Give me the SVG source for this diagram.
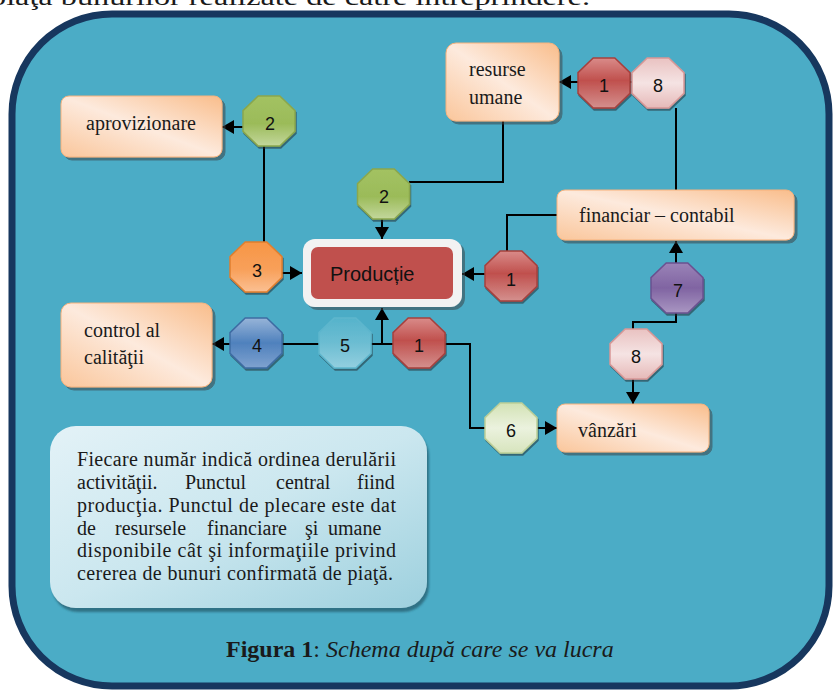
<svg xmlns="http://www.w3.org/2000/svg" xmlns:xlink="http://www.w3.org/1999/xlink" width="833" height="690" viewBox="0 0 833 690">
<defs>
<style>
.serif{font-family:"Liberation Serif","DejaVu Serif",serif;fill:#1a1a1a}
.bt{font-size:20px}
.pt{font-size:20px}
.num{font-family:"Liberation Sans","DejaVu Sans",sans-serif;font-size:18px;text-anchor:middle;fill:#111}
.conn{stroke:#000;stroke-width:2;fill:none}
.arr{marker-end:url(#ah)}
.box{fill:url(#gp);stroke:#f7b27c;stroke-width:1;filter:url(#bsh)}
.oct{filter:url(#osh)}
</style>
<linearGradient id="gp" x1="0" y1="1" x2="1" y2="0">
<stop offset="0" stop-color="#fac69b"/><stop offset="0.5" stop-color="#fdeadd"/><stop offset="1" stop-color="#f9bd8b"/>
</linearGradient>
<linearGradient id="gi" x1="0" y1="0" x2="1" y2="1">
<stop offset="0" stop-color="#e3f2f7"/><stop offset="0.5" stop-color="#cbe7ef"/><stop offset="1" stop-color="#9dd0de"/>
</linearGradient>
<linearGradient id="g-green" x1="0" y1="0" x2="0" y2="1"><stop offset="0" stop-color="#a3c262"/><stop offset="0.55" stop-color="#9bbb59"/><stop offset="1" stop-color="#c3d79c"/></linearGradient>
<linearGradient id="g-orange" x1="0" y1="0" x2="0" y2="1"><stop offset="0" stop-color="#f79646"/><stop offset="0.55" stop-color="#f8a05a"/><stop offset="1" stop-color="#fbc093"/></linearGradient>
<linearGradient id="g-red" x1="0" y1="0" x2="0" y2="1"><stop offset="0" stop-color="#d98b89"/><stop offset="0.45" stop-color="#c0504d"/><stop offset="1" stop-color="#d4908e"/></linearGradient>
<linearGradient id="g-pink" x1="0" y1="0" x2="0" y2="1"><stop offset="0" stop-color="#e9c2c1"/><stop offset="0.5" stop-color="#f5e3e3"/><stop offset="1" stop-color="#e6b9b8"/></linearGradient>
<linearGradient id="g-purple" x1="0" y1="0" x2="0" y2="1"><stop offset="0" stop-color="#9a83b7"/><stop offset="0.5" stop-color="#8064a2"/><stop offset="1" stop-color="#a996c2"/></linearGradient>
<linearGradient id="g-blue" x1="0" y1="0" x2="0" y2="1"><stop offset="0" stop-color="#97b4d8"/><stop offset="0.5" stop-color="#4f81bd"/><stop offset="1" stop-color="#7fa2cf"/></linearGradient>
<linearGradient id="g-lblue" x1="0" y1="0" x2="0" y2="1"><stop offset="0" stop-color="#56b3cb"/><stop offset="0.5" stop-color="#6cbdd2"/><stop offset="1" stop-color="#93cfdf"/></linearGradient>
<linearGradient id="g-lgreen" x1="0" y1="0" x2="0" y2="1"><stop offset="0" stop-color="#d3e2b5"/><stop offset="0.5" stop-color="#ebf2de"/><stop offset="1" stop-color="#d7e4bd"/></linearGradient>
<filter id="bsh" x="-10%" y="-10%" width="125%" height="130%"><feDropShadow dx="3" dy="3" stdDeviation="0.6" flood-color="#3a4548" flood-opacity="0.55"/></filter>
<filter id="osh" x="-20%" y="-20%" width="150%" height="150%"><feDropShadow dx="1" dy="2" stdDeviation="0.5" flood-color="#1a2f38" flood-opacity="0.55"/></filter>
<filter id="ish" x="-5%" y="-5%" width="115%" height="120%"><feDropShadow dx="2" dy="4" stdDeviation="0.8" flood-color="#22596a" flood-opacity="0.7"/></filter>
<marker id="ah" markerUnits="userSpaceOnUse" markerWidth="13" markerHeight="14" refX="12" refY="7" orient="auto">
<path d="M0,0 L12,7 L0,14 z" fill="#000"/>
</marker>
<polygon id="oct" points="-10.8,-25 10.8,-25 26,-10.4 26,10.4 10.8,25 -10.8,25 -26,10.4 -26,-10.4"/>
</defs>

<text class="serif" x="-10" y="5" font-size="24" textLength="600" lengthAdjust="spacingAndGlyphs">piaţa bunurilor realizate de către întreprindere.</text>

<rect id="frame" x="12" y="14" width="817" height="672" rx="100" ry="100" fill="#4bacc6" stroke="#17375e" stroke-width="7"/>

<g id="connectors">
<path class="conn arr" d="M244,127 H222"/>
<path class="conn" d="M264,146 V243"/>
<path class="conn arr" d="M282,273 H302"/>
<path class="conn" d="M503,121 V182 H409"/>
<path class="conn arr" d="M382,219 V239"/>
<path class="conn arr" d="M578,82 H559"/>
<path class="conn" d="M629,82 H633"/>
<path class="conn" d="M676,108 V190"/>
<path class="conn" d="M557,215 H507 V251"/>
<path class="conn arr" d="M486,274 H462"/>
<path class="conn arr" d="M676,263 V241"/>
<path class="conn" d="M676,312 V322 H633 V330"/>
<path class="conn arr" d="M633,378 V404"/>
<path class="conn arr" d="M231,344 H212"/>
<path class="conn" d="M281,344 H320"/>
<path class="conn" d="M370,344 H394"/>
<path class="conn arr" d="M382,344 V308"/>
<path class="conn" d="M444,344 H470 V428 H486"/>
<path class="conn arr" d="M536,428 H557"/>
</g>

<g id="aprovizionare">
<rect class="box" x="61" y="96" width="161" height="61" rx="8"/>
<text class="serif bt" x="141" y="130" text-anchor="middle">aprovizionare</text>
</g>
<g id="resurse-umane">
<rect class="box" x="446" y="43" width="113" height="78" rx="10"/>
<text class="serif bt" x="469" y="76">resurse</text>
<text class="serif bt" x="469" y="104">umane</text>
</g>
<g id="financiar-contabil">
<rect class="box" x="557" y="190" width="237" height="50" rx="8"/>
<text class="serif bt" x="579" y="222">financiar – contabil</text>
</g>
<g id="control-calitate">
<rect class="box" x="61" y="303" width="151" height="84" rx="10"/>
<text class="serif bt" x="84" y="337">control al</text>
<text class="serif bt" x="84" y="364">calităţii</text>
</g>
<g id="vanzari">
<rect class="box" x="557" y="404" width="152" height="48" rx="8"/>
<text class="serif bt" x="578" y="437">vânzări</text>
</g>
<g id="productie">
<rect x="303" y="239" width="159" height="68" rx="12" fill="#f2f2f2" filter="url(#bsh)"/>
<rect x="311" y="247" width="142" height="52" rx="7" fill="#c0504d"/>
<text x="330" y="281" font-family="Liberation Sans, DejaVu Sans, sans-serif" font-size="20" fill="#111">Producție</text>
</g>

<g id="n2a"><use href="#oct" x="269" y="121" class="oct" fill="url(#g-green)" stroke="#8aa74d" stroke-width="1.5"/><text class="num" x="270" y="130">2</text></g>
<g id="n2b"><use href="#oct" x="383.5" y="194" class="oct" fill="url(#g-green)" stroke="#8aa74d" stroke-width="1.5"/><text class="num" x="384" y="203">2</text></g>
<g id="n3"><use href="#oct" x="256" y="267" class="oct" fill="url(#g-orange)" stroke="#e07f2e" stroke-width="1.5"/><text class="num" x="257" y="277">3</text></g>
<g id="n1a"><use href="#oct" x="604" y="83" class="oct" fill="url(#g-red)" stroke="#a6403d" stroke-width="1.5"/><text class="num" x="604" y="92">1</text></g>
<g id="n8a"><use href="#oct" x="658" y="83" class="oct" fill="url(#g-pink)" stroke="#d79796" stroke-width="1.5"/><text class="num" x="658" y="92">8</text></g>
<g id="n1b"><use href="#oct" x="511" y="276" class="oct" fill="url(#g-red)" stroke="#a6403d" stroke-width="1.5"/><text class="num" x="511" y="286">1</text></g>
<g id="n7"><use href="#oct" x="677" y="288" class="oct" fill="url(#g-purple)" stroke="#6a5190" stroke-width="1.5"/><text class="num" x="678" y="297">7</text></g>
<g id="n8b"><use href="#oct" x="636" y="354" class="oct" fill="url(#g-pink)" stroke="#d79796" stroke-width="1.5"/><text class="num" x="636" y="363">8</text></g>
<g id="n6"><use href="#oct" x="511" y="428" class="oct" fill="url(#g-lgreen)" stroke="#bccf98" stroke-width="1.5"/><text class="num" x="511" y="437">6</text></g>
<g id="n4"><use href="#oct" x="256" y="343" class="oct" fill="url(#g-blue)" stroke="#3e6ca3" stroke-width="1.5"/><text class="num" x="257" y="352">4</text></g>
<g id="n5"><use href="#oct" x="345" y="343" class="oct" fill="url(#g-lblue)" stroke="#5db6cd" stroke-width="1.5"/><text class="num" x="345" y="352">5</text></g>
<g id="n1c"><use href="#oct" x="419" y="343" class="oct" fill="url(#g-red)" stroke="#a6403d" stroke-width="1.5"/><text class="num" x="419" y="352">1</text></g>

<g id="info">
<rect x="50" y="426" width="377" height="182" rx="26" fill="url(#gi)" filter="url(#ish)"/>
<text class="serif pt" x="77" y="466" textLength="319" lengthAdjust="spacing">Fiecare număr indică ordinea derulării</text>
<text class="serif pt" y="489"><tspan x="77">activităţii.</tspan><tspan x="185">Punctul</tspan><tspan x="276">central</tspan><tspan x="357">fiind</tspan></text>
<text class="serif pt" x="77" y="512" textLength="319" lengthAdjust="spacing">producţia. Punctul de plecare este dat</text>
<text class="serif pt" y="534.5"><tspan x="77">de</tspan><tspan x="115">resursele</tspan><tspan x="207">financiare</tspan><tspan x="305">şi</tspan><tspan x="328">umane</tspan></text>
<text class="serif pt" x="77" y="557" textLength="319" lengthAdjust="spacing">disponibile cât şi informaţiile privind</text>
<text class="serif pt" x="77" y="579.5" textLength="316" lengthAdjust="spacing">cererea  de bunuri confirmată de piaţă.</text>
</g>

<text id="caption" class="serif" x="226" y="657" font-size="24"><tspan font-weight="bold">Figura 1</tspan>: <tspan font-style="italic">Schema după care se va lucra</tspan></text>
</svg>
